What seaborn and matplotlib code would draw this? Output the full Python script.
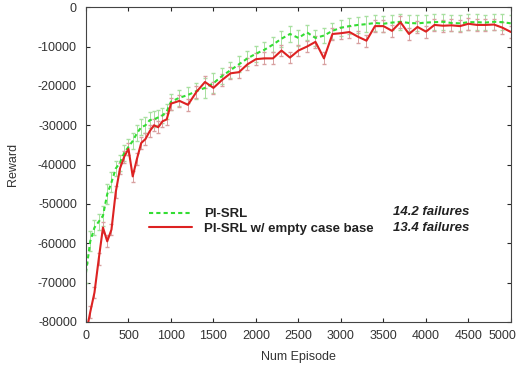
import matplotlib
matplotlib.use('Agg')
import matplotlib.pyplot as plt
import matplotlib.transforms as mtransforms
import pandas as pd
import seaborn as sns

# episodes (denser sampling early on)
episodes = [0, 50, 100, 150, 200, 250, 300, 350, 400, 450, 500, 550, 600, 650, 700, 750, 800, 850, 900, 950, 1000,
            1100, 1200, 1300, 1400, 1500, 1600, 1700, 1800, 1900, 2000, 2100, 2200, 2300, 2400, 2500, 2600, 2700,
            2800, 2900, 3000, 3100, 3200, 3300, 3400, 3500, 3600, 3700, 3800, 3900, 4000, 4100, 4200, 4300, 4400,
            4500, 4600, 4700, 4800, 4900, 5000]

reward_pisrl = [-67500, -59500, -56000, -54500, -53000, -47500, -44500, -41000, -39500, -37000, -35500, -34000,
                -32000, -30500, -30000, -28700, -28500, -28000, -27500, -26500, -24000,
                -23000, -22300, -21300, -20500, -19300, -17500, -16000, -14500, -13000, -11800, -10800, -9500,
                -8000, -6800, -7800, -6400, -7800, -7200, -6000, -5200, -4800, -4500, -4300, -4000, -4200,
                -3900, -3700, -4000, -4100, -3900, -3800, -3700, -4000, -4100, -3800, -3800, -3900, -3700,
                -3800, -4100]
err_pisrl = [2500, 2500, 2000, 2000, 2500, 2500, 2500, 2000, 2000, 2000, 2000, 2000,
             2000, 2000, 2000, 2000, 2000, 2000, 2000, 2000, 2000,
             2000, 2000, 2000, 2500, 2500, 2000, 2000, 2000, 2000, 2000, 2000, 2000,
             2000, 2000, 2000, 2000, 2000, 2000, 2000, 2000, 2000, 2000, 2000, 2000, 2000,
             2000, 2000, 2000, 2000, 2000, 2000, 2000, 2000, 2000, 2000, 2000, 2000, 2000,
             2000, 2000]

reward_empty = [-83000, -77500, -72500, -64000, -56000, -59500, -56500, -47000, -41000, -38000, -36000, -43000,
                -38500, -34500, -33500, -31500, -30000, -30500, -29000, -28500, -24500,
                -23800, -24800, -21500, -19000, -20500, -18500, -16800, -16500, -14500, -13200, -13000, -13000,
                -11000, -12800, -11000, -10000, -8800, -13000, -6800, -6600, -6300, -7500, -8500, -4800, -4800,
                -6000, -3800, -6800, -5000, -6200, -4500, -4700, -4600, -4800, -4200, -4500, -4500, -4400,
                -5200, -6300]
err_empty = [1500, 1500, 1500, 1500, 1500, 1500, 1500, 1500, 1500, 1500, 1500, 1500,
             1500, 1500, 1500, 1500, 1500, 1500, 1500, 1500, 1500,
             1500, 1500, 1500, 1500, 1500, 1500, 1500, 1500, 1500, 1500, 1500, 1500,
             1500, 1500, 1500, 1500, 1500, 1500, 1500, 1500, 1500, 1500, 1500, 1500, 1500,
             1500, 1500, 1500, 1500, 1500, 1500, 1500, 1500, 1500, 1500, 1500, 1500, 1500,
             1500, 1500]

labels = ['PI-SRL', 'PI-SRL w/ empty case base']
failures = ['14.2 failures', '13.4 failures']

sns.set_theme(style='ticks')
plt.rcParams['font.family'] = ['Liberation Sans', 'DejaVu Sans']
plt.rcParams['axes.unicode_minus'] = False
plt.rcParams['xtick.direction'] = 'in'
plt.rcParams['ytick.direction'] = 'in'

df = pd.DataFrame({'Episode': episodes * 2,
                   'Reward': reward_pisrl + reward_empty,
                   'Method': [labels[0]] * len(episodes) + [labels[1]] * len(episodes)})

fig = plt.figure(figsize=(5.23, 3.69), dpi=100)
ax = fig.add_axes([0.1644, 0.1274, 0.8126, 0.853])

# error bars first, lines on top
ax.errorbar(episodes, reward_pisrl, yerr=err_pisrl, fmt='none', ecolor='#a8e0a0', elinewidth=0.7, capsize=1.5)
ax.errorbar(episodes, reward_empty, yerr=err_empty, fmt='none', ecolor='#d8a0a0', elinewidth=0.7, capsize=1.5)

sns.lineplot(data=df, x='Episode', y='Reward', hue='Method', style='Method',
             palette={labels[0]: '#33dd33', labels[1]: '#dd2222'},
             dashes={labels[0]: (2, 1.5), labels[1]: ''}, linewidth=1.5, ax=ax)

ax.set_xlim(0, 5000)
ax.set_ylim(-80000, 0)
ax.set_xticks(range(0, 5001, 500))
ax.set_yticks(range(-80000, 1, 10000))
ax.tick_params(labelsize=9, labelcolor='#333333', top=True, right=True, length=3, width=0.8)
ax.tick_params(axis='x', pad=6)
ax.tick_params(axis='y', pad=6.5)
for s in ax.spines.values():
    s.set_linewidth(0.8)
    s.set_color('#444444')
ax.set_xlabel('Num Episode', fontsize=9, color='#333333', labelpad=6)
ax.set_ylabel('Reward', fontsize=9, color='#333333', labelpad=14)

# keep the last x tick label inside the figure
last = ax.get_xticklabels()[-1]
last.set_transform(last.get_transform() + mtransforms.ScaledTranslation(-9 / 100, 0, fig.dpi_scale_trans))

leg = ax.legend(loc='upper left', bbox_to_anchor=(0.12, 0.40), frameon=False, title=None,
                prop={'weight': 'bold', 'size': 9.5}, handlelength=3.3, handletextpad=0.9, labelspacing=0.2)
for t in leg.get_texts():
    t.set_color('#222222')

ax.text(0.722, 0.349, failures[0], transform=ax.transAxes, fontsize=9.5, fontweight='bold',
        fontstyle='italic', color='#222222', va='center')
ax.text(0.722, 0.298, failures[1], transform=ax.transAxes, fontsize=9.5, fontweight='bold',
        fontstyle='italic', color='#222222', va='center')

plt.savefig('out.png', dpi=100)
